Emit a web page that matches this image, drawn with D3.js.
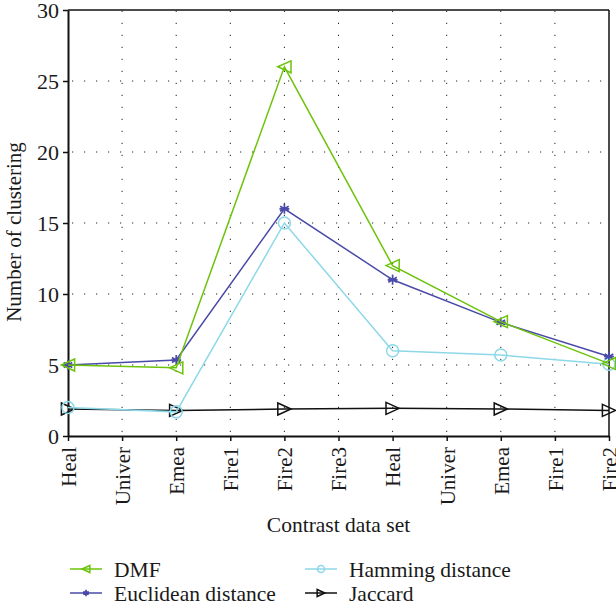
<!DOCTYPE html>
<html><head><meta charset="utf-8">
<script src="https://cdn.jsdelivr.net/npm/d3@7"></script>
<style>body{margin:0;background:#fff}svg{display:block}text{font-family:"Liberation Serif","Times New Roman",serif;fill:#1a1a1a}</style>
</head><body>
<script>
const categories = ["Heal","Univer","Emea","Fire1","Fire2","Fire3","Heal","Univer","Emea","Fire1","Fire2"];
const pointIdx = [0,2,4,6,8,10];
const dmf = [5,4.8,26,12,8.05,5.1];
const euclidean = [5,5.35,16,11,8,5.6];
const hamming = [2,1.7,15,6,5.7,5.05];
const jaccard = [1.9,1.8,1.9,1.95,1.9,1.8];
const yTicks = [0,5,10,15,20,25,30];
const seriesNames = ["DMF","Euclidean distance","Hamming distance","Jaccard"];
const colors = ["#6cc30a","#4a4aa8","#8dd8e8","#111111"];

const W=616,H=609;
const m={l:68,r:7,t:10,b:173};
const svg=d3.select("body").append("svg").attr("width",W).attr("height",H);
const x=d3.scaleLinear().domain([0,categories.length-1]).range([m.l,W-m.r]);
const y=d3.scaleLinear().domain([0,30]).range([H-m.b,m.t]);

// grid
const g=svg.append("g");
g.selectAll("line.v").data(d3.range(1,categories.length-1)).join("line")
 .attr("x1",d=>x(d)).attr("x2",d=>x(d)).attr("y1",y(0)).attr("y2",y(30))
 .attr("stroke","#222").attr("stroke-width",1).attr("stroke-dasharray","1.2,10.8").attr("stroke-dashoffset",-4);
g.selectAll("line.h").data(yTicks.slice(1,-1)).join("line")
 .attr("x1",x(0)).attr("x2",x(10)).attr("y1",d=>y(d)).attr("y2",d=>y(d))
 .attr("stroke","#222").attr("stroke-width",1).attr("stroke-dasharray","1.2,10.8").attr("stroke-dashoffset",-4);

// frame
svg.append("line").attr("x1",x(0)).attr("x2",x(10)).attr("y1",y(30)).attr("y2",y(30)).attr("stroke","#111").attr("stroke-width",1.5);
svg.append("line").attr("x1",x(10)).attr("x2",x(10)).attr("y1",y(30)).attr("y2",y(0)).attr("stroke","#111").attr("stroke-width",1.5);

// axes
const xa=svg.append("g").attr("transform",`translate(0,${y(0)})`)
 .call(d3.axisBottom(x).tickValues(d3.range(categories.length)).tickFormat(i=>categories[i]).tickSize(5).tickSizeOuter(0));
xa.select(".domain").attr("stroke","#111").attr("stroke-width",2);
xa.selectAll(".tick line").attr("stroke","#111").attr("stroke-width",1.5);
xa.selectAll(".tick text").attr("transform","rotate(-90)").attr("text-anchor","end")
 .attr("x",-11).attr("y",0).attr("dy","0.35em").style("font-size","21px").attr("fill","#1a1a1a");
const ya=svg.append("g").attr("transform",`translate(${x(0)},0)`)
 .call(d3.axisLeft(y).tickValues(yTicks).tickSize(5).tickSizeOuter(0));
ya.select(".domain").attr("stroke","#111").attr("stroke-width",2);
ya.selectAll(".tick line").attr("stroke","#111").attr("stroke-width",1.5);
ya.selectAll(".tick text").attr("x",-9).attr("dy","0.34em").style("font-size","22px").attr("fill","#1a1a1a");

svg.append("text").attr("transform",`translate(21,232) rotate(-90)`).attr("text-anchor","middle").style("font-size","21px").text("Number of clustering");
svg.append("text").attr("x",(x(0)+x(10))/2).attr("y",532).attr("text-anchor","middle").style("font-size","21.5px").text("Contrast data set");

// markers
function marker(sel,k,s){
  const c=colors[k];
  if(k===0){ // left triangle
    sel.append("path").attr("d",`M${-s*0.55},0L${s*0.55},${-s*0.5}L${s*0.55},${s*0.5}Z`).attr("fill","none").attr("stroke",c).attr("stroke-width",1.5);
  } else if(k===1){ // asterisk
    const r=s*0.45;
    const p=[0,60,120].map(a=>{const t=a*Math.PI/180;return `M${-r*Math.sin(t)},${-r*Math.cos(t)}L${r*Math.sin(t)},${r*Math.cos(t)}`;}).join("")+`M${-r},0L${r},0`;
    sel.append("path").attr("d",p).attr("stroke",c).attr("stroke-width",1.7).attr("fill","none");
  } else if(k===2){
    sel.append("circle").attr("r",s*0.5).attr("fill","none").attr("stroke",c).attr("stroke-width",1.5);
  } else {
    sel.append("path").attr("d",`M${s*0.55},0L${-s*0.55},${-s*0.5}L${-s*0.55},${s*0.5}Z`).attr("fill","none").attr("stroke",c).attr("stroke-width",1.5);
  }
}

const allSeries=[dmf,euclidean,hamming,jaccard];
const line=d3.line().x((d,i)=>x(pointIdx[i])).y(d=>y(d));
[3,2,1,0].forEach(k=>{
  const vals=allSeries[k];
  svg.append("path").datum(vals).attr("d",line).attr("fill","none").attr("stroke",colors[k]).attr("stroke-width",1.5);
  vals.forEach((v,i)=>{
    const gg=svg.append("g").attr("transform",`translate(${x(pointIdx[i])},${y(v)})`);
    marker(gg,k,k===1?11:12);
  });
});

// legend
const legPos=[[70,569],[70,593],[305,569],[305,593]];
seriesNames.forEach((n,k)=>{
  const [lx,ly]=legPos[k];
  const lg=svg.append("g").attr("transform",`translate(${lx},${ly})`);
  lg.append("line").attr("x1",0).attr("x2",32).attr("y1",0).attr("y2",0).attr("stroke",colors[k]).attr("stroke-width",1.5);
  const mg=lg.append("g").attr("transform","translate(16,0)");
  marker(mg,k,7);
  lg.append("text").attr("x",44).attr("y",0).attr("dy","0.35em").style("font-size","21.5px").text(n);
});
</script>
</body></html>
